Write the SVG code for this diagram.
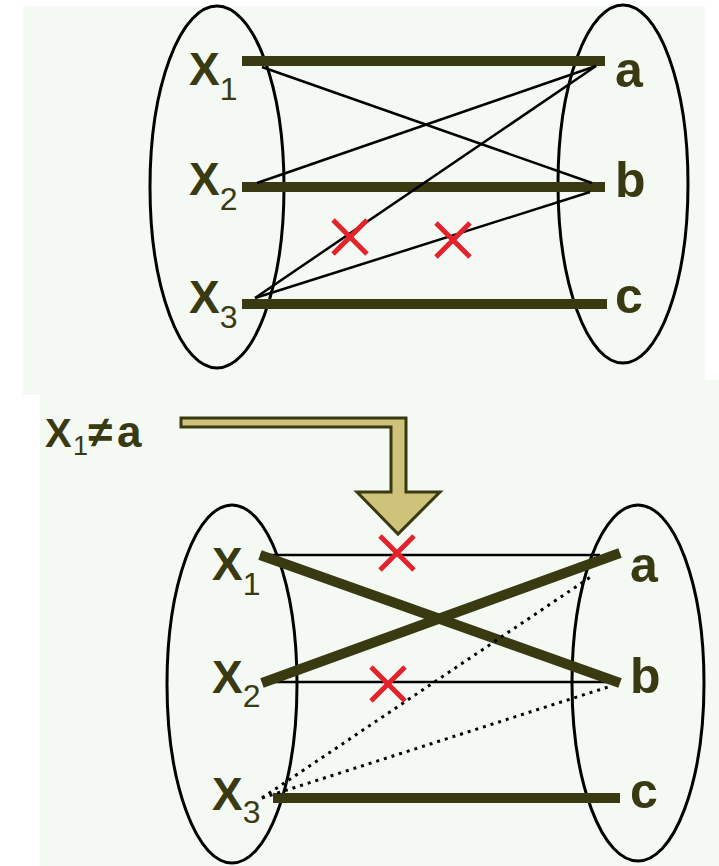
<svg xmlns="http://www.w3.org/2000/svg" width="719" height="866" viewBox="0 0 719 866">
<style>
.bg{fill:#f4f9f3}
.ell{fill:none;stroke:#000;stroke-width:3}
.thick{stroke:#3a3a12;stroke-width:10;stroke-linecap:butt}
.thin{stroke:#000;stroke-width:2.5}
.dot{stroke:#000;stroke-width:3;stroke-dasharray:3 5}
.lbl{font-family:"Liberation Sans",Arial,sans-serif;font-size:46px;font-weight:bold;fill:#3a3a12}
.val{font-family:"Liberation Sans",Arial,sans-serif;font-size:50px;font-weight:bold;fill:#3a3a12}
.cross{stroke:#e3222b;stroke-width:5;stroke-linecap:butt}
</style>
<rect width="719" height="866" fill="#ffffff"/>
<rect class="bg" x="23" y="6" width="682" height="389"/>
<rect class="bg" x="40" y="380" width="679" height="486"/>

<g id="top-left-set">
<ellipse class="ell" cx="217" cy="187" rx="67" ry="181"/>
<text class="lbl" x="189" y="85">X<tspan font-size="32" font-weight="normal" dy="15">1</tspan></text>
<text class="lbl" x="189" y="195">X<tspan font-size="32" font-weight="normal" dy="15">2</tspan></text>
<text class="lbl" x="189" y="313">X<tspan font-size="32" font-weight="normal" dy="15">3</tspan></text>
</g>
<g id="top-right-set">
<ellipse class="ell" cx="623" cy="184" rx="65" ry="179"/>
<text class="val" x="615" y="87">a</text>
<text class="val" x="615" y="197">b</text>
<text class="val" x="615" y="313">c</text>
</g>

<g id="top-connectors">
<line class="thick" x1="242" y1="61" x2="605" y2="61"/>
<line class="thick" x1="242" y1="187" x2="605" y2="187"/>
<line class="thick" x1="242" y1="304" x2="607" y2="304"/>
<line class="thin" x1="262" y1="67" x2="592" y2="183"/>
<line class="thin" x1="257" y1="183" x2="596" y2="66"/>
<line class="thin" x1="255" y1="298" x2="596" y2="66"/>
<line class="thin" x1="255" y1="298" x2="590" y2="192"/>
<g class="cross"><line x1="333" y1="220" x2="367" y2="254"/><line x1="367" y1="220" x2="333" y2="254"/></g>
<g class="cross"><line x1="436" y1="223" x2="470" y2="257"/><line x1="470" y1="223" x2="436" y2="257"/></g>
</g>

<g id="constraint">
<text y="447" style="font-family:'Liberation Sans',Arial,sans-serif;font-size:40px;font-weight:bold;fill:#3a3a12"><tspan x="45">X</tspan><tspan x="73" font-size="27" font-weight="normal" dy="8">1</tspan><tspan x="88" dy="-8" font-size="44">≠</tspan><tspan x="117" font-size="44">a</tspan></text>
<polygon points="181,418 406,418 406,492 440,492 398,534 357,492 391,492 391,427 181,427" fill="#cfc27a" stroke="#3a3a12" stroke-width="3" stroke-linejoin="miter"/>
</g>

<g id="bottom-left-set">
<ellipse class="ell" cx="232" cy="684" rx="65" ry="179"/>
<text class="lbl" x="212" y="580">X<tspan font-size="32" font-weight="normal" dy="15">1</tspan></text>
<text class="lbl" x="212" y="693">X<tspan font-size="32" font-weight="normal" dy="14">2</tspan></text>
<text class="lbl" x="212" y="810">X<tspan font-size="32" font-weight="normal" dy="13">3</tspan></text>
</g>
<g id="bottom-right-set">
<ellipse class="ell" cx="638" cy="683" rx="66" ry="178"/>
<text class="val" x="630" y="582">a</text>
<text class="val" x="630" y="693">b</text>
<text class="val" x="630" y="808">c</text>
</g>

<g id="bottom-connectors">
<line class="thin" x1="260" y1="555" x2="600" y2="555"/>
<line class="thin" x1="263" y1="682" x2="607" y2="682"/>
<line class="thick" x1="260" y1="555" x2="620" y2="683"/>
<line class="thick" x1="262" y1="683" x2="620" y2="553"/>
<line class="thick" x1="273" y1="798" x2="620" y2="798"/>
<line class="dot" x1="262" y1="798" x2="592" y2="576"/>
<line class="dot" x1="262" y1="798" x2="608" y2="687"/>
<g class="cross"><line x1="380" y1="536" x2="414" y2="570"/><line x1="414" y1="536" x2="380" y2="570"/></g>
<g class="cross"><line x1="371" y1="667" x2="405" y2="701"/><line x1="405" y1="667" x2="371" y2="701"/></g>
</g>
</svg>
